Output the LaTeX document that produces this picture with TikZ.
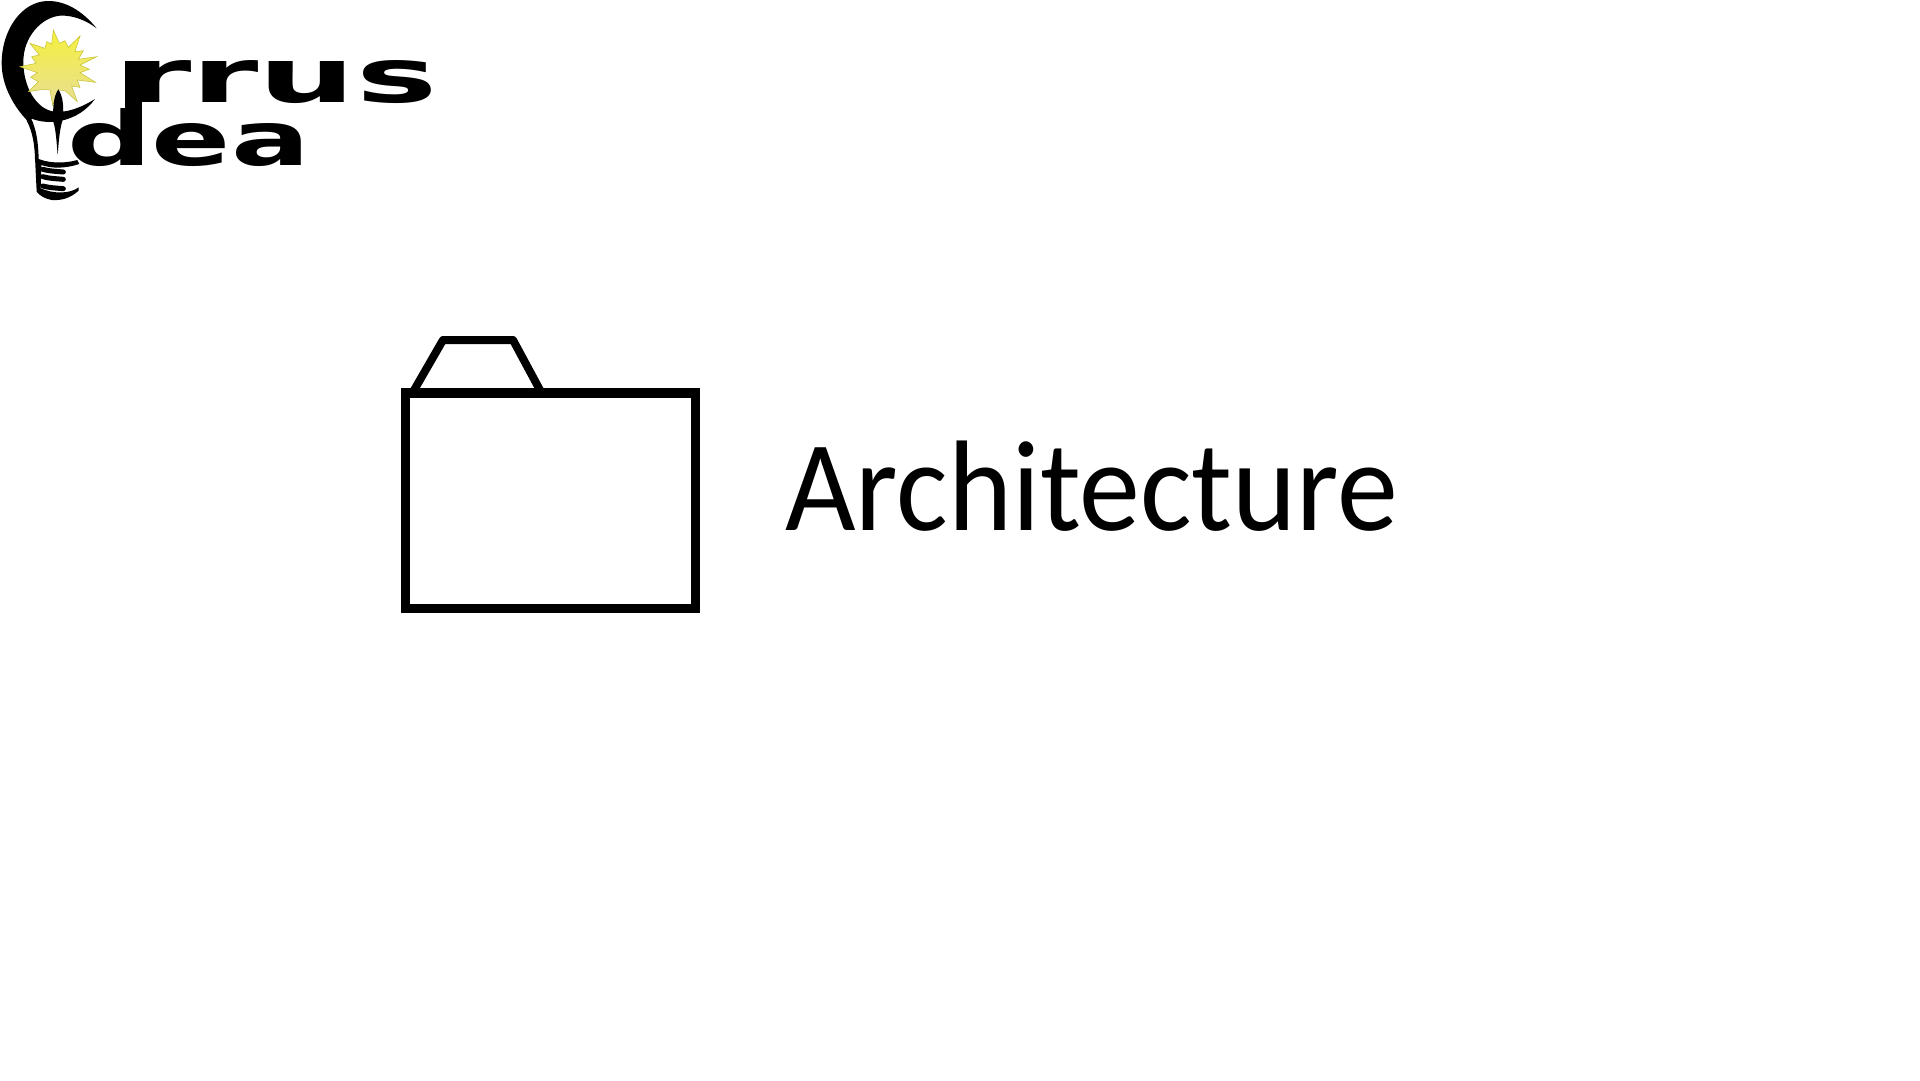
\documentclass[tikz,border=0pt]{standalone}
\usepackage{fontspec}
\setmainfont{Carlito}
\newfontfamily\logofont{DejaVu Sans}
\definecolor{sunyellow}{RGB}{245,240,60}
\definecolor{sunbeige}{RGB}{232,222,150}
\tikzset{
  folderline/.style={draw=black, line width=9pt, line join=miter},
  logoword/.style={inner sep=0pt, anchor=base west, font=\logofont\bfseries\fontsize{75pt}{75pt}\selectfont},
}
\begin{document}
\begin{tikzpicture}[x=1pt, y=-1pt]
\useasboundingbox (0,0) rectangle (1920,1080);
% lamp logo, measured on a 3x grid
\begin{scope}[scale=1/3]
% crescent
\fill[black] (290,85) .. controls (245,30) and (195,3) .. (145,3) .. controls (65,3) and (5,90) .. (5,190)
  .. controls (5,260) and (45,325) .. (85,365) -- (95,356) .. controls (150,378) and (235,365) .. (285,297)
  .. controls (240,325) and (200,338) .. (165,335) .. controls (110,330) and (70,262) .. (70,185)
  .. controls (70,110) and (125,52) .. (180,47) .. controls (220,45) and (260,62) .. (290,85) -- cycle;
\shade[top color=sunyellow, bottom color=sunbeige, draw=sunyellow!80!black, line width=0.5pt]
  (160,90) -- (178,130) -- (195,122) -- (205,142) -- (240,108) -- (225,155) -- (250,152) -- (235,178)
  -- (290,170) -- (240,195) -- (268,208) -- (240,218) -- (287,247) -- (232,240) -- (240,262) -- (215,258)
  -- (232,305) -- (195,272) -- (175,270) -- (158,316) -- (150,270) -- (130,268) -- (85,275) -- (115,245)
  -- (92,232) -- (112,218) -- (60,200) -- (108,190) -- (95,170) -- (118,165) -- (90,130) -- (135,145)
  -- (140,125) -- (155,132) -- cycle;
% glass and middle spike
\fill[black] (80,362) .. controls (98,395) and (104,435) .. (105,478) -- (116,478)
  .. controls (115,430) and (110,390) .. (92,352) -- cycle;
\fill[black] (175,268) .. controls (190,290) and (192,325) .. (188,360) .. controls (178,390) and (176,430) .. (173,465)
  .. controls (170,430) and (168,390) .. (160,365) .. controls (158,325) and (160,290) .. (175,268) -- cycle;
% screw of the lamp
\fill[black] (105,472) .. controls (140,490) and (190,492) .. (232,480) -- (238,492)
  .. controls (195,506) and (155,506) .. (124,495) -- (122,565) .. controls (160,582) and (210,582) .. (236,562)
  -- (236,572) .. controls (210,595) and (185,602) .. (155,600) .. controls (135,596) and (120,588) .. (110,575) -- cycle;
\foreach \ya in {508,530,558}
  \draw[black, line width=5pt, line cap=round] (128,\ya) .. controls (150,\ya+6) and (170,\ya+6) .. (190,\ya+8);
% long stem between both words
\fill[black] (375,182) rectangle (425,495);
\node[logoword, xscale=1.82] (wordtop) at (372,308) {rrus};
\node[logoword, xscale=1.56] (wordbottom) at (203,495) {dea};
\end{scope}
% folder
\draw[folderline] (405,393.5) rectangle (695.5,608.5);
\fill[black] (400.5,388) rectangle (700,398);
\draw[black, line width=8pt, line join=round] (413,392) -- (443,340) -- (513,340) -- (541,392);
\node[inner sep=0pt, anchor=base west, xscale=0.945, font=\fontsize{129pt}{129pt}\selectfont] (title) at (785,530) {Architecture};
\end{tikzpicture}
\end{document}
